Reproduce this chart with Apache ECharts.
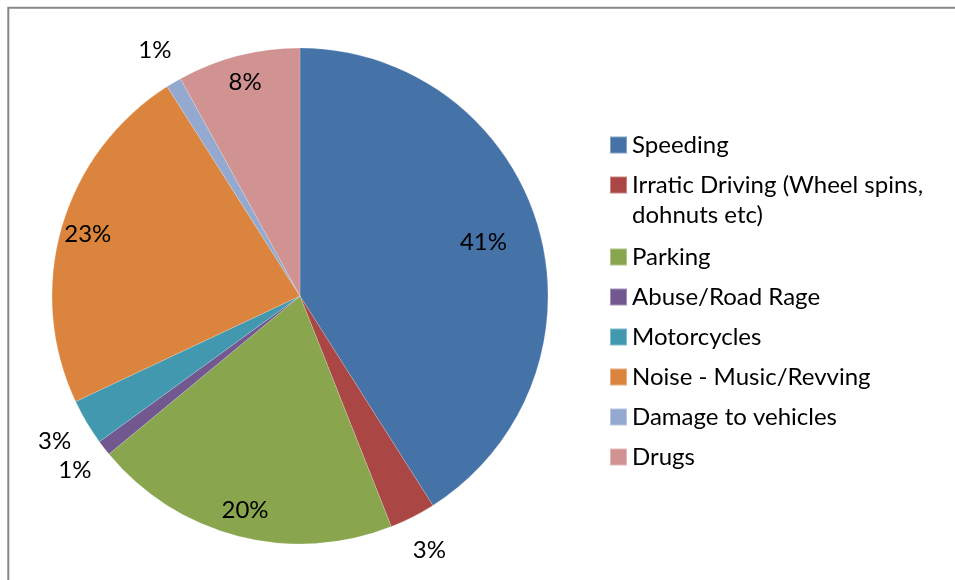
<!DOCTYPE html>
<html>
<head>
<meta charset="utf-8">
<script src="https://cdn.jsdelivr.net/npm/echarts@6/dist/echarts.min.js"></script>
<style>
  html, body { margin: 0; padding: 0; background: #fff; }
  #chart { width: 955px; height: 580px; }
</style>
</head>
<body>
<div id="chart"></div>
<script>
// Reported issues, share of complaints (%)
const categories = [
  'Speeding',
  'Irratic Driving (Wheel spins, dohnuts etc)',
  'Parking',
  'Abuse/Road Rage',
  'Motorcycles',
  'Noise - Music/Revving',
  'Damage to vehicles',
  'Drugs'
];
const shares = [41, 3, 20, 1, 3, 23, 1, 8];
const colors = ['#4572A7', '#AA4643', '#89A54E', '#71588F', '#4198AF', '#DB843D', '#93A9CF', '#D19392'];

// Layout
const FONT = 'Lato, "Open Sans", sans-serif';
const FONT_SIZE = 24;
const CENTER = [300, 296];
const RADIUS = 248;
// Each percentage sits on a ring; an invisible pie of twice that radius carries it
const labelRing = ['near', 'outer', 'mid', 'outer', 'outer', 'mid', 'outer', 'mid'];
const ringRadius = { near: 376, mid: 436, outer: 564 };

const pieBase = {
  type: 'pie',
  center: CENTER,
  startAngle: 90,
  clockwise: true,
  avoidLabelOverlap: false,
  animation: false,
  labelLine: { show: false }
};

const mainSeries = Object.assign({}, pieBase, {
  name: 'share',
  radius: RADIUS,
  label: { show: false },
  itemStyle: { borderColor: 'rgba(255,255,255,0.35)', borderWidth: 0.5 },
  emphasis: { disabled: true },
  data: categories.map((name, i) => ({
    name: name,
    value: shares[i],
    itemStyle: { color: colors[i] }
  }))
});

const labelSeries = Object.keys(ringRadius).map(ring => Object.assign({}, pieBase, {
  name: 'labels-' + ring,
  radius: ringRadius[ring],
  silent: true,
  itemStyle: { color: 'rgba(0,0,0,0)' },
  emphasis: { disabled: true },
  label: {
    position: 'inside',
    color: '#000',
    fontSize: FONT_SIZE,
    fontFamily: FONT,
    formatter: p => Math.round(p.percent) + '%'
  },
  data: categories.map((name, i) => ({
    name: name,
    value: shares[i],
    label: { show: labelRing[i] === ring }
  }))
}));

// Legend: the wrapped entry keeps its swatch beside the first text line
// (a leading empty line balances the block around the swatch), so the
// first two entries get their own block.
const legendBase = {
  orient: 'vertical',
  left: 609,
  padding: 0,
  itemWidth: 17,
  itemHeight: 17,
  icon: 'rect',
  selectedMode: false,
  textStyle: {
    color: '#000',
    fontSize: FONT_SIZE,
    fontFamily: FONT,
    lineHeight: 30,
    width: 320,
    overflow: 'break'
  }
};
const legends = [
  Object.assign({}, legendBase, {
    top: 130,
    itemGap: -20,
    data: categories.slice(0, 2),
    formatter: name => (name === categories[1] ? '\n' + name : name)
  }),
  Object.assign({}, legendBase, {
    top: 242,
    itemGap: 10,
    data: categories.slice(2)
  })
];

const chart = echarts.init(document.getElementById('chart'), null, { renderer: 'canvas' });
chart.setOption({
  backgroundColor: '#fff',
  animation: false,
  graphic: [{
    type: 'rect',
    silent: true,
    shape: { x: 8.3, y: 7.7, width: 1200, height: 1200 },
    style: { fill: 'none', stroke: '#868686', lineWidth: 2 }
  }],
  legend: legends,
  series: [mainSeries].concat(labelSeries)
});
</script>
</body>
</html>
